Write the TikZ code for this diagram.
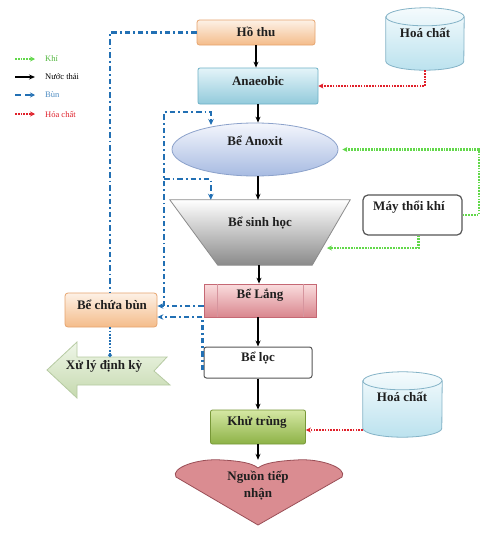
\documentclass[tikz,border=0pt]{standalone}
\usepackage{fontspec}
\setmainfont{Liberation Serif}
\usetikzlibrary{arrows.meta,calc,shapes.geometric}
\definecolor{hoT}{HTML}{FDF1E6}\definecolor{hoB}{HTML}{F4BC8A}\definecolor{hoD}{HTML}{E6A46E}
\definecolor{anT}{HTML}{E4F4F9}\definecolor{anB}{HTML}{92CADB}\definecolor{anD}{HTML}{6EB1C6}
\definecolor{oxT}{HTML}{F4F6FC}\definecolor{oxB}{HTML}{A7BBE2}\definecolor{oxD}{HTML}{8CA2CB}
\definecolor{shT}{HTML}{FFFFFF}\definecolor{shB}{HTML}{8A8A8A}\definecolor{shD}{HTML}{8C8C8C}
\definecolor{lgT}{HTML}{FADDDE}\definecolor{lgB}{HTML}{D9868E}\definecolor{lgD}{HTML}{C56874}
\definecolor{khT}{HTML}{D5E8A4}\definecolor{khB}{HTML}{8DB246}\definecolor{khD}{HTML}{789838}
\definecolor{hrF}{HTML}{DA8C91}\definecolor{hrD}{HTML}{9A4E56}
\definecolor{cyT}{HTML}{F5FBFD}\definecolor{cyB}{HTML}{BBE2EE}\definecolor{cyD}{HTML}{84B3C7}
\definecolor{xuT}{HTML}{EFF6E8}\definecolor{xuB}{HTML}{C5D9AE}\definecolor{xuD}{HTML}{B6CAA2}
\definecolor{sludgeblue}{HTML}{2270B4}
\definecolor{airgreen}{HTML}{62D84A}
\definecolor{chemred}{HTML}{E0202A}
\definecolor{greyline}{HTML}{555555}
\newcommand\mainsz{\fontsize{13}{15}\selectfont\bfseries}
\newcommand\legsz{\fontsize{8.5}{10}\selectfont}
\begin{document}
\begin{tikzpicture}[x=1pt,y=1pt,
  shapebox/.style={rectangle, rounded corners=2.5pt, line width=0.8pt, inner sep=0pt},
  plain/.style={rectangle, inner sep=0pt, draw=none},
  lbl/.style={font=\mainsz, text=black!88, inner sep=0pt, align=center},
  legtxt/.style={font=\legsz, inner sep=0pt, anchor=west},
  flow/.style={-{Stealth[length=6pt,width=5pt]}, line width=1.5pt, black},
  sludge/.style={draw=sludgeblue, line width=2.3pt, dash pattern=on 5.5pt off 3pt on 1.8pt off 3pt},
  sludgetip/.style={sludge, -{Stealth[length=6pt,width=5.5pt]}},
  sludgedot/.style={draw=sludgeblue, line width=2.3pt, dash pattern=on 1.8pt off 1.4pt, -{Circle[length=3.5pt]}},
  air/.style={draw=airgreen, line width=2.2pt, dash pattern=on 1.7pt off 1.1pt, -{Stealth[length=5pt,width=5pt]}},
  chemline/.style={draw=chemred, line width=2.4pt, dash pattern=on 1.7pt off 1.1pt, -{Stealth[length=5pt,width=5pt]}},
  cyl/.style={draw=cyD, line width=0.8pt, top color=cyT, bottom color=cyB}
]
\useasboundingbox[fill=white] (0,0) rectangle (500,-541);

% ---------- legend ----------
\coordinate (lg1a) at (15,-59);  \coordinate (lg1b) at (35,-59);
\coordinate (lg2a) at (15,-77);  \coordinate (lg2b) at (35,-77);
\coordinate (lg3a) at (15,-95);  \coordinate (lg3b) at (35,-95);
\coordinate (lg4a) at (15,-114); \coordinate (lg4b) at (35,-114);
\draw[air, line width=1.8pt] (lg1a) -- (lg1b);
\draw[flow, line width=1.4pt] (lg2a) -- (lg2b);
\draw[draw=sludgeblue, line width=2pt, dash pattern=on 6pt off 4pt, -{Stealth[length=5pt,width=5pt]}] (lg3a) -- (lg3b);
\draw[chemline, line width=1.8pt] (lg4a) -- (lg4b);
\node[legtxt, text=airgreen!85!black] (lgt1) at (45,-59) {Khí};
\node[legtxt, text=black] (lgt2) at (45,-77) {Nước thải};
\node[legtxt, text=sludgeblue!80] (lgt3) at (45,-95) {Bùn};
\node[legtxt, text=chemred] (lgt4) at (45,-114) {Hóa chất};

% ---------- main column ----------
\node[shapebox, draw=hoD, top color=hoT, bottom color=hoB, minimum width=118pt, minimum height=25pt] (hothu) at (256,-32.5) {};
\node[lbl] (hothuT) at (256,-32) {Hồ thu};

\node[shapebox, rounded corners=2pt, draw=anD, top color=anT, bottom color=anB, minimum width=120pt, minimum height=36pt] (anae) at (258,-86) {};
\node[lbl] (anaeT) at (258,-81) {Anaeobic};

\node[ellipse, draw=oxD, line width=0.8pt, top color=oxT, bottom color=oxB, minimum width=166pt, minimum height=53pt, inner sep=0pt] (anox) at (255,-149.5) {};
\node[lbl] (anoxT) at (255,-141) {Bể Anoxit};

\node[plain, minimum width=180pt, minimum height=65pt] (sinh) at (260,-232.5) {};
\path[draw=shD, line width=0.8pt, top color=shT, bottom color=shB]
  (sinh.north west) -- (sinh.north east) -- ($(sinh.south east)+(-38,0)$) -- ($(sinh.south west)+(48,0)$) -- cycle;
\node[lbl] (sinhT) at (260,-223) {Bể sinh học};

\node[rectangle, inner sep=0pt, line width=0.8pt, draw=lgD, top color=lgT, bottom color=lgB, minimum width=112pt, minimum height=33pt] (lang) at (260,-300.5) {};
\draw[lgD!70, line width=0.7pt] ($(lang.north west)+(14,0)$) -- ($(lang.south west)+(14,0)$);
\draw[lgD!70, line width=0.7pt] ($(lang.north east)+(-13,0)$) -- ($(lang.south east)+(-13,0)$);
\node[lbl] (langT) at (260,-295) {Bể Lắng};

\node[shapebox, draw=greyline, fill=white, line width=1pt, minimum width=108pt, minimum height=31pt] (loc) at (258,-362.5) {};
\node[lbl] (locT) at (258,-358) {Bể lọc};

\node[shapebox, rounded corners=2pt, draw=khD, top color=khT, bottom color=khB, minimum width=95pt, minimum height=34pt] (khu) at (258,-427) {};
\node[lbl] (khuT) at (257,-422) {Khử trùng};

\node[plain, minimum width=166pt, minimum height=65pt] (nguon) at (259,-492.5) {};
\path[draw=hrD, line width=0.8pt, fill=hrF]
  (258,-525) -- (176,-477)
  .. controls (170,-468) and (198,-458) .. (222,-460)
  .. controls (240,-461) and (252,-463) .. (258,-468)
  .. controls (264,-463) and (278,-461) .. (296,-460)
  .. controls (320,-458) and (348,-468) .. (342,-477) -- cycle;
\node[lbl, font=\fontsize{13}{17}\selectfont\bfseries] (nguonT) at (258,-486) {Nguồn tiếp\\nhận};

% ---------- side units ----------
\node[plain, minimum width=78pt, minimum height=62pt] (chem1) at (425,-39) {};
\path[cyl] ($(chem1.north west)+(0,-9)$) -- ($(chem1.south west)+(0,9)$)
  arc[start angle=180, end angle=360, x radius=39, y radius=9]
  -- ($(chem1.north east)+(0,-9)$)
  arc[start angle=0, end angle=180, x radius=39, y radius=9] -- cycle;
\draw[draw=cyD, line width=0.8pt] ($(chem1.north west)+(0,-9)$) arc[start angle=180, end angle=360, x radius=39, y radius=9];
\node[lbl] (chem1T) at (425,-33) {Hoá chất};

\node[plain, minimum width=79pt, minimum height=65pt] (chem2) at (402.5,-404.5) {};
\path[cyl] ($(chem2.north west)+(0,-9)$) -- ($(chem2.south west)+(0,9)$)
  arc[start angle=180, end angle=360, x radius=39.5, y radius=9]
  -- ($(chem2.north east)+(0,-9)$)
  arc[start angle=0, end angle=180, x radius=39.5, y radius=9] -- cycle;
\draw[draw=cyD, line width=0.8pt] ($(chem2.north west)+(0,-9)$) arc[start angle=180, end angle=360, x radius=39.5, y radius=9];
\node[lbl] (chem2T) at (402,-397) {Hoá chất};

\node[shapebox, rounded corners=5pt, draw=greyline, fill=white, line width=1.2pt, minimum width=99pt, minimum height=40pt] (may) at (412.5,-215) {};
\node[lbl] (mayT) at (409,-207) {Máy thổi khí};

\node[shapebox, rounded corners=3pt, draw=hoD, top color=hoT, bottom color=hoB, minimum width=92pt, minimum height=34pt] (chuabun) at (111,-310) {};
\node[lbl] (chuabunT) at (112,-305) {Bể chứa bùn};

\node[plain, minimum width=123pt, minimum height=56pt] (xuly) at (108.5,-370) {};
\path[draw=xuD, line width=0.8pt, top color=xuT, bottom color=xuB]
  (47,-370) -- (77,-342) -- (77,-357) -- (167,-357) -- (154,-371) -- (170,-385) -- (77,-385) -- (77,-398) -- cycle;
\node[lbl] (xulyT) at (104,-366) {Xử lý định kỳ};

% ---------- water flow ----------
\coordinate (f3a) at ($(anox.south)+(3,0)$);
\coordinate (f4a) at ($(sinh.south)+(-1,0)$);
\coordinate (f5a) at ($(lang.south)+(-2,0)$);
\draw[flow] (hothu.south) -- (hothu.south |- anae.north);
\draw[flow] (anae.south) -- (anae.south |- anox.north);
\draw[flow] (f3a) -- (f3a |- sinh.north);
\draw[flow] (f4a) -- (f4a |- lang.north);
\draw[flow] (f5a) -- (f5a |- loc.north);
\draw[flow] (loc.south) -- (loc.south |- khu.north);
\draw[flow] (khu.south) -- (khu.south |- nguon.north);

% ---------- chemicals ----------
\draw[chemline] (chem1.south) |- (anae.east);
\coordinate (c2out) at ($(chem2.west)+(0,-25.5)$);
\draw[chemline] (c2out) -- (c2out -| khu.east);

% ---------- air ----------
\coordinate (anoxR) at ($(anox.east)+(4,0)$);
\draw[air] (may.east) -- ++(16,0) |- (anoxR);
\coordinate (mayS) at ($(may.south)+(6,0)$);
\coordinate (sinhR) at (327,-248);
\draw[air] (mayS) |- (sinhR);

% ---------- sludge ----------
\coordinate (cbTop) at ($(chuabun.north)+(-1,0)$);
\draw[sludge] (hothu.west) -| (cbTop);
\coordinate (s1) at ($(lang.west)+(0,-5.5)$);
\draw[sludgetip] (s1) -- (s1 -| chuabun.east);
\coordinate (rj) at (164,-306);
\coordinate (rt) at (164,-112);
\coordinate (rm) at (164,-179);
\coordinate (anoxIn) at (211,-125);
\coordinate (sinhIn) at ($(sinh.north west)+(41,0)$);
\draw[sludgetip] (rj) -- (rt) -| (anoxIn);
\draw[sludgetip] (rm) -| (sinhIn);
\coordinate (l1) at ($(loc.west)+(-1,-7.5)$);
\coordinate (cb2) at ($(chuabun.east)+(0,-7)$);
\draw[sludgetip] (l1) |- (cb2);
\coordinate (cbBot) at ($(chuabun.south)+(-1,0)$);
\coordinate (xulyTop) at (110,-357);
\draw[sludgedot] (cbBot) -- (xulyTop);
\end{tikzpicture}
\end{document}
